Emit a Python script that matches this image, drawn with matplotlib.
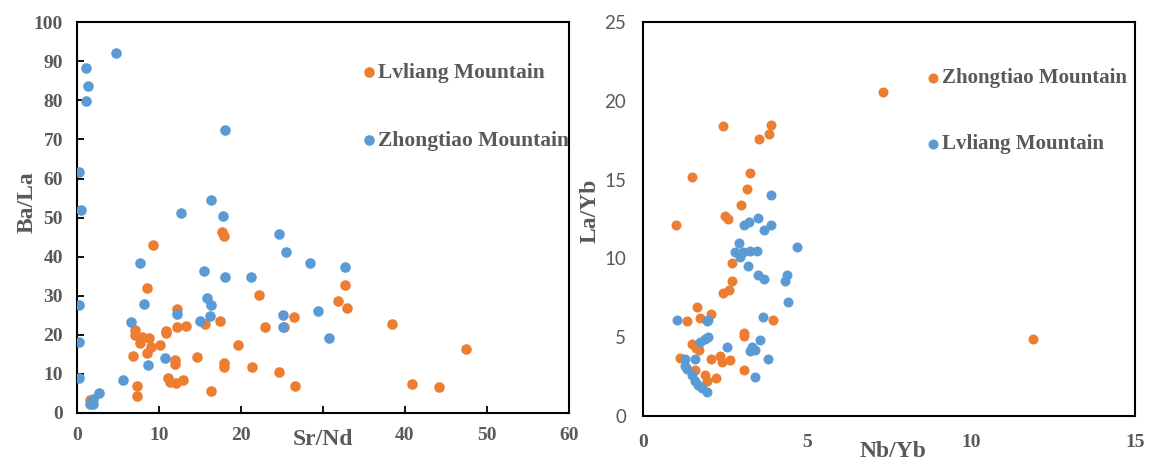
import matplotlib
matplotlib.use("Agg")
from matplotlib import pyplot as plt

ORANGE = '#ED7D31'
BLUE = '#5B9BD5'
GREY = '#595959'

# left panel: Sr/Nd vs Ba/La
lv_srnd = [17.7, 17.9, 9.3, 8.5, 22.2, 12.2, 12.2, 13.3, 15.6, 17.4, 23.0, 26.5, 25.3,
           7.1, 7.1, 7.9, 8.8, 7.7, 9.0, 10.1, 8.6, 10.9, 10.9, 6.8, 11.9, 11.9, 14.6,
           19.7, 17.9, 17.9, 21.4, 24.7, 11.1, 11.4, 12.1, 12.9, 7.3, 7.3, 16.3, 26.6,
           1.6, 32.7, 31.9, 32.9, 38.4, 47.5, 40.9, 44.2]
lv_bala = [46.4, 45.3, 43.0, 31.9, 30.2, 26.5, 22.0, 22.3, 22.8, 23.5, 22.1, 24.5, 22.0,
           21.2, 19.9, 19.4, 19.3, 17.8, 16.9, 17.4, 15.3, 20.5, 21.1, 14.7, 13.6, 12.5, 14.3,
           17.5, 12.9, 11.8, 11.8, 10.6, 8.9, 8.0, 7.6, 8.4, 6.9, 4.3, 5.6, 6.8,
           3.3, 32.7, 28.6, 26.9, 22.8, 16.3, 7.3, 6.6]

zt_srnd = [4.7, 1.1, 1.4, 1.1, 18.1, 0.2, 0.5, 16.3, 12.7, 17.8, 24.7, 25.5, 28.4, 7.7,
           15.5, 18.1, 21.2, 32.7, 0.2, 8.2, 15.9, 16.4, 12.2, 16.2, 15.0, 25.1, 25.1,
           29.4, 6.6, 0.2, 10.7, 8.7, 0.2, 5.6, 30.8, 2.7, 2.0, 1.6, 2.0, 1.8]
zt_bala = [92.1, 88.4, 83.8, 79.9, 72.5, 61.7, 51.9, 54.4, 51.1, 50.4, 45.8, 41.3, 38.4, 38.4,
           36.4, 34.7, 34.7, 37.3, 27.6, 28.0, 29.5, 27.6, 25.3, 24.7, 23.6, 25.2, 22.0,
           26.1, 23.2, 18.2, 14.1, 12.2, 8.9, 8.4, 19.2, 5.2, 3.5, 2.3, 2.3, 2.9]

# the "30" tick label is hidden under the axis title in the original
left_xticks = [0, 10, 20, 30, 40, 50, 60]
left_xticklabels = ['0', '10', '20', '', '40', '50', '60']

# right panel: Nb/Yb vs La/Yb (labels as in the original figure)
or_nbyb = [2.45, 3.89, 3.85, 3.55, 1.48, 3.26, 3.16, 2.98, 2.5, 2.6, 1.01, 2.70, 2.70,
           2.63, 2.45, 1.64, 2.07, 1.74, 1.33, 3.97, 3.08, 3.08, 1.48, 1.62, 1.72, 2.07,
           2.35, 2.40, 2.65, 1.13, 1.59, 1.89, 2.23, 1.94, 3.08, 7.32, 11.9]
or_layb = [18.4, 18.5, 17.9, 17.6, 15.2, 15.4, 14.4, 13.4, 12.7, 12.5, 12.1, 9.7, 8.6,
           8.0, 7.8, 6.9, 6.45, 6.2, 6.0, 6.1, 5.3, 5.1, 4.6, 4.3, 4.2, 3.65,
           3.8, 3.45, 3.55, 3.7, 2.9, 2.6, 2.4, 2.2, 2.9, 20.6, 4.9]

bl_nbyb = [3.89, 3.5, 3.23, 3.08, 3.9, 3.70, 4.7, 2.93, 2.8, 3.06, 3.26, 3.47, 2.96, 3.21,
           3.52, 3.69, 4.38, 4.33, 4.43, 3.65, 1.03, 1.94, 1.99, 1.89, 1.74, 1.99, 2.55,
           3.31, 3.57, 3.41, 3.26, 3.82, 1.28, 1.59, 1.28, 1.33, 1.48, 1.59, 1.69, 1.79,
           1.94, 3.41]
bl_layb = [14.0, 12.6, 12.3, 12.1, 12.1, 11.8, 10.7, 11.0, 10.4, 10.4, 10.5, 10.5, 10.1, 9.5,
           8.95, 8.7, 8.95, 8.6, 7.25, 6.3, 6.1, 6.0, 6.1, 4.9, 4.7, 5.03, 4.4,
           4.4, 4.8, 4.2, 4.1, 3.65, 3.65, 3.6, 3.2, 3.0, 2.6, 2.2, 2.0, 1.75,
           1.54, 2.5]

serif = {'family': 'Liberation Serif', 'weight': 'bold', 'color': GREY}

fig = plt.figure(figsize=(11.49, 4.63), dpi=100)
ax1 = fig.add_axes([0.067, 0.108, 0.428, 0.844])
ax2 = fig.add_axes([0.5596, 0.1015, 0.4282, 0.8505])

# ---- left ----
ax1.scatter(lv_srnd, lv_bala, s=58, c=ORANGE, linewidths=0, label='Lvliang Mountain', zorder=2)
ax1.scatter(zt_srnd, zt_bala, s=58, c=BLUE, linewidths=0, label='Zhongtiao Mountain', zorder=3)
ax1.set_xlim(0, 60)
ax1.set_ylim(0, 100)
ax1.set_xticks(left_xticks)
ax1.set_xticklabels(left_xticklabels)
ax1.set_yticks(range(0, 101, 10))
ax1.tick_params(direction='in', length=5, width=1.3, pad=10)
for lab in ax1.get_xticklabels() + ax1.get_yticklabels():
    lab.set_fontfamily('Liberation Serif')
    lab.set_fontweight('bold')
    lab.set_fontsize(14)
    lab.set_color(GREY)
ax1.set_xlabel('Sr/Nd', fontdict=serif, fontsize=17)
ax1.xaxis.set_label_coords(0.5, -0.068)
ax1.xaxis.label.set_va('center')
ax1.set_ylabel('Ba/La', fontdict=serif, fontsize=17)
ax1.yaxis.set_label_coords(-0.08, 0.54)
for sp in ax1.spines.values():
    sp.set_linewidth(1.5)
leg1 = ax1.legend(loc='center left', bbox_to_anchor=(0.553, 0.784), frameon=False,
                  handletextpad=0.0, labelspacing=2.23, borderpad=0, handlelength=0.85,
                  prop={'family': 'Liberation Serif', 'weight': 'bold', 'size': 15.5})
for t in leg1.get_texts():
    t.set_color(GREY)

# ---- right ----
ax2.scatter(or_nbyb, or_layb, s=52, c=ORANGE, linewidths=0, label='Zhongtiao Mountain', zorder=2)
ax2.scatter(bl_nbyb, bl_layb, s=52, c=BLUE, linewidths=0, label='Lvliang Mountain', zorder=3)
ax2.set_xlim(0, 15)
ax2.set_ylim(0, 25)
ax2.set_xticks(range(0, 16, 5))
ax2.set_yticks(range(0, 26, 5))
ax2.tick_params(axis='x', length=0, pad=13)
ax2.tick_params(axis='y', length=0, pad=12)
for lab in ax2.get_xticklabels():
    lab.set_fontfamily('Liberation Serif')
    lab.set_fontweight('bold')
    lab.set_fontsize(14)
    lab.set_color(GREY)
for lab in ax2.get_yticklabels():
    lab.set_fontfamily('Lato')
    lab.set_fontsize(13.5)
    lab.set_color(GREY)
ax2.set_xlabel('Nb/Yb', fontdict=serif, fontsize=17)
ax2.xaxis.set_label_coords(0.509, -0.09)
ax2.xaxis.label.set_va('center')
ax2.set_ylabel('La/Yb', fontdict=serif, fontsize=17)
ax2.yaxis.set_label_coords(-0.087, 0.52)
for sp in ax2.spines.values():
    sp.set_linewidth(1.5)
leg2 = ax2.legend(loc='center left', bbox_to_anchor=(0.551, 0.774), frameon=False,
                  handletextpad=0.0, labelspacing=2.2, borderpad=0, handlelength=0.85,
                  prop={'family': 'Liberation Serif', 'weight': 'bold', 'size': 15})
for t in leg2.get_texts():
    t.set_color(GREY)

fig.savefig('out.png', dpi=100)
